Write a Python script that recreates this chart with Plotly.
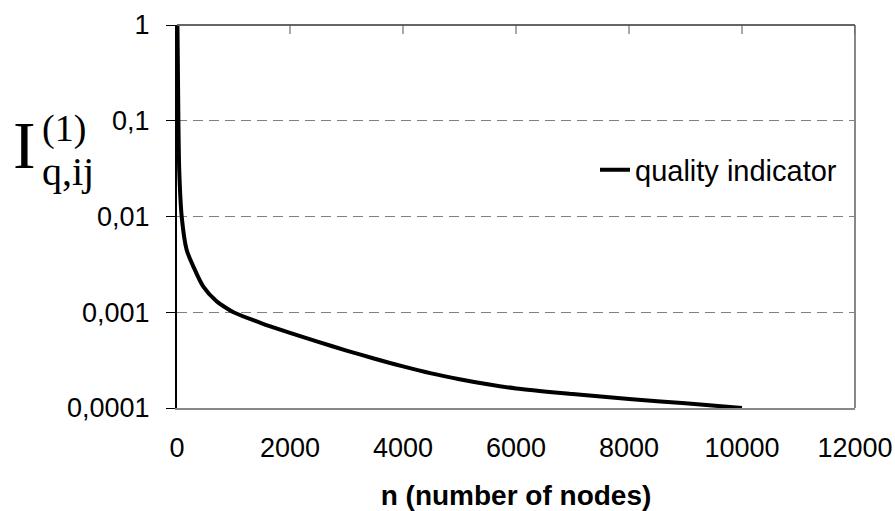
import plotly.graph_objects as go

# Data
nodes = [8, 25, 40, 83, 170, 290, 466, 700, 880, 1000, 1500, 2000, 2500, 3000,
         3500, 4000, 4500, 5000, 5500, 6000, 7000, 8000, 9000, 10000]
quality = [1.0, 0.1, 0.03, 0.01, 0.0045, 0.003, 0.00185, 0.0013, 0.0011, 0.001,
           0.000767, 0.00061, 0.00049, 0.000398, 0.000327, 0.000272, 0.00023, 0.0002,
           0.000177, 0.00016, 0.00014, 0.000124, 0.000112, 0.0001]

y_tickvals = [0.0001, 0.001, 0.01, 0.1, 1]
y_ticktext = ["0,0001", "0,001", "0,01", "0,1", "1"]
x_tickvals = [0, 2000, 4000, 6000, 8000, 10000, 12000]
x_ticktext = ["0", "2000", "4000", "6000", "8000", "10000", "12000"]

W, H = 895, 511
L, R, T, B = 177, 40, 25, 103
pw, ph = W - L - R, H - T - B


def px(x):
    return (x - L) / pw


def py(y):
    return (H - B - y) / ph


FONT = "Liberation Sans, Arial, sans-serif"
SERIF = "Liberation Serif, Times New Roman, serif"

fig = go.Figure()
fig.add_trace(go.Scatter(x=nodes, y=quality, mode="lines", name="quality indicator",
                         line=dict(color="black", width=4, shape="spline", smoothing=0.8)))

# frame: top and right border, and inside tick marks along the top edge
shapes = [
    dict(type="line", xref="paper", yref="paper", x0=1, x1=1, y0=0, y1=1,
         line=dict(color="#888888", width=2)),
    dict(type="line", xref="paper", yref="paper", x0=0, x1=1, y0=1, y1=1,
         line=dict(color="#666666", width=2)),
]
tick_len = 9 / ph
for tv in x_tickvals[1:]:
    shapes.append(dict(type="line", xref="x", yref="paper", x0=tv, x1=tv,
                       y0=1, y1=1 - tick_len, line=dict(color="#555555", width=1)))

fig.update_layout(
    width=W, height=H,
    margin=dict(l=L, r=R, t=T, b=B, autoexpand=False),
    paper_bgcolor="white", plot_bgcolor="white",
    font=dict(family=FONT, size=27, color="black"),
    showlegend=True,
    legend=dict(x=px(595), y=py(170), xanchor="left", yanchor="middle",
                bgcolor="rgba(0,0,0,0)", font=dict(size=29), borderwidth=0),
    xaxis=dict(range=[0, 12000], tickvals=x_tickvals, ticktext=x_ticktext,
               ticks="", showgrid=False, zeroline=False, showline=True,
               linecolor="#888888", linewidth=2, ticklabelstandoff=15,
               automargin=False,
               title=dict(text="<b>n (number of nodes)</b>", font=dict(size=28),
                          standoff=24)),
    yaxis=dict(type="log", range=[-4, 0], tickvals=y_tickvals, ticktext=y_ticktext,
               ticks="outside", ticklen=9, tickcolor="black", tickwidth=1,
               showline=True, linecolor="black", linewidth=2,
               showgrid=True, gridcolor="#808080", griddash="10px,6px", gridwidth=1,
               zeroline=False, ticklabelstandoff=11, automargin=False),
    shapes=shapes,
    annotations=[
        dict(text="I", x=px(24), y=py(145), xref="paper", yref="paper",
             xanchor="center", yanchor="middle", showarrow=False,
             font=dict(family=SERIF, size=68, color="black")),
        dict(text="(1)", x=px(40), y=py(128), xref="paper", yref="paper",
             xanchor="left", yanchor="middle", showarrow=False,
             font=dict(family=SERIF, size=38, color="black")),
        dict(text="q,ij", x=px(40), y=py(171), xref="paper", yref="paper",
             xanchor="left", yanchor="middle", showarrow=False,
             font=dict(family=SERIF, size=40, color="black")),
    ],
)

fig.write_html("out.html", config={"displayModeBar": False},
               post_script="document.body.style.margin='0px';")
